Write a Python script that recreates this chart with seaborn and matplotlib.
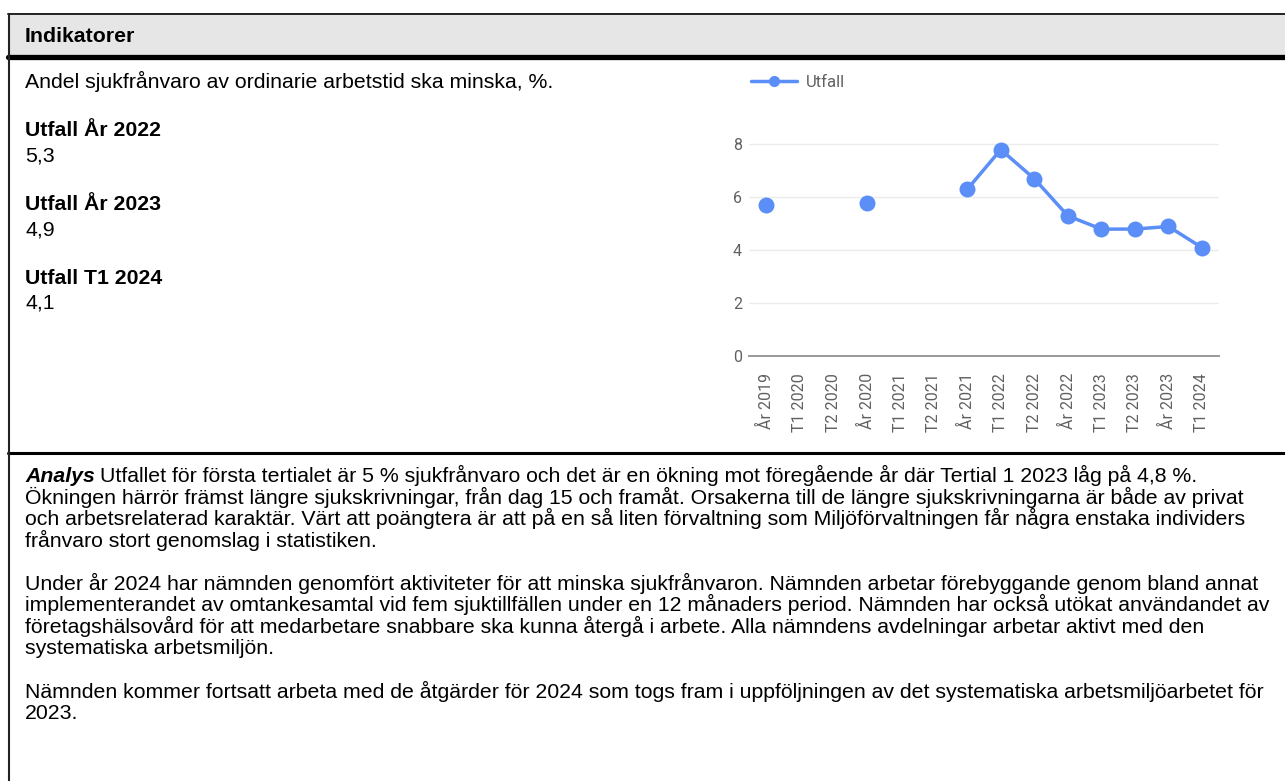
import numpy as np
import pandas as pd
import matplotlib.pyplot as plt
from matplotlib.lines import Line2D
from matplotlib.patches import Rectangle
import seaborn as sns

# Chart data
periods = ["År 2019", "T1 2020", "T2 2020", "År 2020", "T1 2021", "T2 2021", "År 2021",
           "T1 2022", "T2 2022", "År 2022", "T1 2023", "T2 2023", "År 2023", "T1 2024"]
utfall = [5.7, np.nan, np.nan, 5.8, np.nan, np.nan, 6.3, 7.8, 6.7, 5.3, 4.8, 4.8, 4.9, 4.1]
y_ticks = [0, 2, 4, 6, 8]

# Key figures in the left column
kpi_labels = ["Utfall År 2022", "Utfall År 2023", "Utfall T1 2024"]
kpi_values = ["5,3", "4,9", "4,1"]

title = "Indikatorer"
indicator = "Andel sjukfrånvaro av ordinarie arbetstid ska minska, %."
analysis_first = ("Utfallet för första tertialet är 5 % sjukfrånvaro och det är en ökning mot "
                  "föregående år där Tertial 1 2023 låg på 4,8 %.")
analysis_lines = [
    "Ökningen härrör främst längre sjukskrivningar, från dag 15 och framåt. Orsakerna till de längre sjukskrivningarna är både av privat",
    "och arbetsrelaterad karaktär. Värt att poängtera är att på en så liten förvaltning som Miljöförvaltningen får några enstaka individers",
    "frånvaro stort genomslag i statistiken.",
    "",
    "Under år 2024 har nämnden genomfört aktiviteter för att minska sjukfrånvaron. Nämnden arbetar förebyggande genom bland annat",
    "implementerandet av omtankesamtal vid fem sjuktillfällen under en 12 månaders period. Nämnden har också utökat användandet av",
    "företagshälsovård för att medarbetare snabbare ska kunna återgå i arbete. Alla nämndens avdelningar arbetar aktivt med den",
    "systematiska arbetsmiljön.",
    "",
    "Nämnden kommer fortsatt arbeta med de åtgärder för 2024 som togs fram i uppföljningen av det systematiska arbetsmiljöarbetet för",
    "2023.",
]

sns.set_style("white")
plt.rcParams["font.family"] = ["Liberation Sans", "DejaVu Sans"]
plt.rcParams["text.color"] = "black"

W, H = 1285, 781
fig = plt.figure(figsize=(W / 100, H / 100), dpi=100)
fig.patch.set_facecolor("white")


def fx(x):
    return x / W


def fy(y):
    return 1 - y / H


# table frame
fig.patches.append(Rectangle((fx(9), fy(55)), 1 - fx(9), fy(15) - fy(55),
                             transform=fig.transFigure, facecolor="#e6e6e6", edgecolor="none"))
fig.add_artist(Line2D([fx(8), 1], [fy(14), fy(14)], color="#222222", lw=1.4))
fig.add_artist(Line2D([fx(8), 1], [fy(57), fy(57)], color="black", lw=3.8))
fig.add_artist(Line2D([fx(8), 1], [fy(453), fy(453)], color="black", lw=2.2))
fig.add_artist(Line2D([fx(9), fx(9)], [fy(14), 0], color="#222222", lw=1.5))

FS = 15.3
fig.text(fx(25), fy(41.5), title, fontsize=FS, fontweight="bold", va="baseline")
fig.text(fx(25), fy(88.5), indicator, fontsize=FS, va="baseline")
for i, (lab, val) in enumerate(zip(kpi_labels, kpi_values)):
    base = 136.5 + i * 73.7
    fig.text(fx(25), fy(base), lab, fontsize=FS, fontweight="bold", va="baseline")
    fig.text(fx(25), fy(base + 25), val, fontsize=FS, va="baseline")

# analysis text
renderer = fig.canvas.get_renderer()
t = fig.text(fx(25), fy(482), "Analys", fontsize=FS, fontweight="bold",
             fontstyle="italic", va="baseline")
bb = t.get_window_extent(renderer=renderer)
fig.text((bb.x1 + 5.5) / W, fy(482), analysis_first, fontsize=FS, va="baseline")
for i, line in enumerate(analysis_lines):
    if line:
        fig.text(fx(25), fy(482 + (i + 1) * 21.55), line, fontsize=FS, va="baseline")

# chart
df = pd.DataFrame({"pos": np.arange(len(periods)), "Utfall": utfall})
# gaps in the series split it into separately drawn runs
df["run"] = df["Utfall"].isna().cumsum()
df = df.dropna()

blue = "#5b8ef6"
ax = fig.add_axes([fx(749), fy(356.3), fx(1219) - fx(749), 8.5 * 26.5 / H])
sns.lineplot(data=df, x="pos", y="Utfall", units="run", estimator=None, ax=ax,
             color=blue, lw=2.5, marker="o", markersize=11.5, markeredgewidth=0,
             legend=False, clip_on=False)
ax.set_xlim(-0.507, 13.507)
ax.set_ylim(0, 8.5)
ax.set_yticks(y_ticks)
ax.set_xticks(np.arange(len(periods)))
ax.set_xticklabels(periods, rotation=90, fontfamily="Roboto", fontsize=11.5, color="#616161")
ax.set_yticklabels([str(v) for v in y_ticks], fontfamily="Roboto", fontsize=11.5, color="#616161")
ax.tick_params(axis="both", length=0)
ax.tick_params(axis="x", pad=12)
ax.tick_params(axis="y", pad=5)
ax.set_xlabel("")
ax.set_ylabel("")
ax.grid(axis="y", color="#ebebeb", lw=1)
ax.grid(axis="x", visible=False)
for s in ["top", "right", "left"]:
    ax.spines[s].set_visible(False)
ax.spines["bottom"].set_color("#999999")
ax.spines["bottom"].set_linewidth(1.4)
ax.set_facecolor("none")

handle = Line2D([], [], color=blue, lw=2.5, marker="o", markersize=8, markeredgewidth=0)
leg = ax.legend(handles=[handle], labels=["Utfall"], loc="center left",
                bbox_to_anchor=(fx(751), fy(82.7)), bbox_transform=fig.transFigure,
                frameon=False, handlelength=2.75, handletextpad=0.55,
                borderpad=0, borderaxespad=0,
                prop={"family": "Roboto", "size": 12})
for txt in leg.get_texts():
    txt.set_color("#616161")

fig.savefig("out.png", dpi=100)
